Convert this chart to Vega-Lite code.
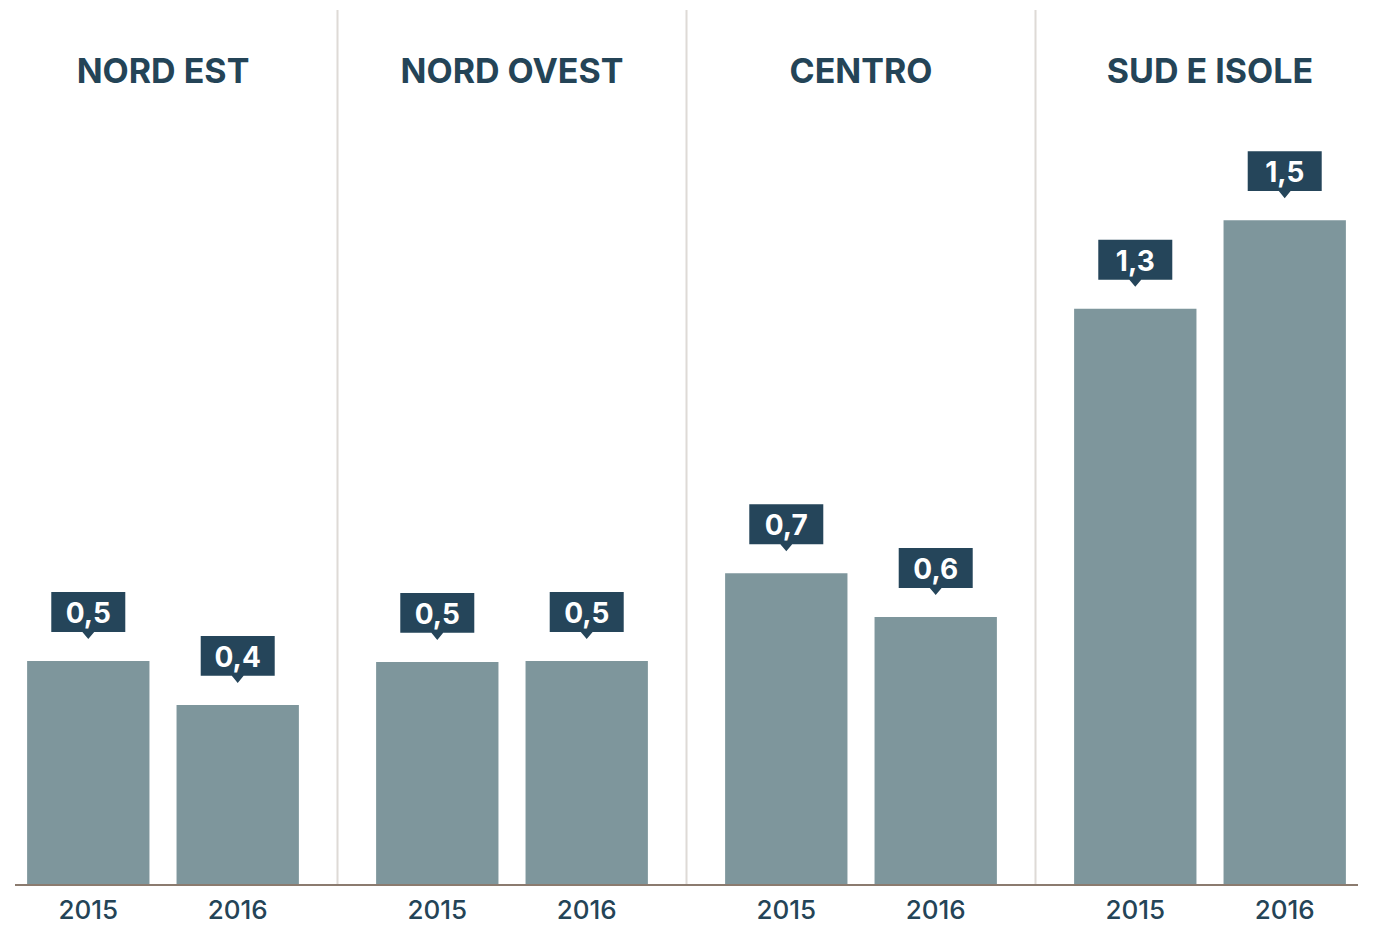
{
  "$schema": "https://vega.github.io/schema/vega-lite/v6.json",
  "autosize": "none",
  "width": 1343,
  "height": 875,
  "padding": {"left": 15, "top": 10, "right": 17, "bottom": 56},
  "background": "white",
  "config": {
    "view": {"stroke": null},
    "font": "Inter",
    "locale": {"number": {"decimal": ",", "thousands": ".", "grouping": [3], "currency": ["€", ""]}}
  },
  "data": {
    "values": [
      {"region": "NORD EST", "year": "2015", "value": 0.5},
      {"region": "NORD EST", "year": "2016", "value": 0.402},
      {"region": "NORD OVEST", "year": "2015", "value": 0.498},
      {"region": "NORD OVEST", "year": "2016", "value": 0.5},
      {"region": "CENTRO", "year": "2015", "value": 0.696},
      {"region": "CENTRO", "year": "2016", "value": 0.598},
      {"region": "SUD E ISOLE", "year": "2015", "value": 1.286},
      {"region": "SUD E ISOLE", "year": "2016", "value": 1.484}
    ]
  },
  "layer": [
    {
      "transform": [{"filter": "datum.region !== 'NORD EST' && datum.year === '2015'"}],
      "mark": {"type": "rule", "color": "#dedad6", "strokeWidth": 2},
      "encoding": {
        "x": {
          "field": "region", "type": "nominal", "bandPosition": 0,
          "sort": ["NORD EST", "NORD OVEST", "CENTRO", "SUD E ISOLE"],
          "scale": {"range": [-26.5, 1369.5], "paddingInner": 0, "paddingOuter": 0}
        }
      }
    },
    {
      "mark": {"type": "bar", "color": "#7e969c"},
      "encoding": {
        "x": {
          "field": "region", "type": "nominal",
          "sort": ["NORD EST", "NORD OVEST", "CENTRO", "SUD E ISOLE"],
          "scale": {"range": [-26.5, 1369.5], "paddingInner": 0, "paddingOuter": 0},
          "axis": {
            "orient": "top", "title": null, "domain": false, "ticks": false, "tickSize": 0,
            "labelPadding": -72, "labelBaseline": "alphabetic", "labelAngle": 0,
            "labelFont": "Inter", "labelFontSize": 34, "labelFontWeight": "bold",
            "labelColor": "#244457", "labelAlign": "center", "labelLimit": 0
          }
        },
        "xOffset": {
          "field": "year", "type": "nominal",
          "scale": {"paddingInner": 0.1812, "paddingOuter": 0.2584}
        },
        "y": {
          "field": "value", "type": "quantitative",
          "scale": {"domain": [0, 1.953], "nice": false, "zero": true},
          "axis": null
        }
      }
    },
    {
      "mark": {"type": "rule", "color": "#8b7b6f", "strokeWidth": 2},
      "encoding": {"y": {"datum": 0, "type": "quantitative"}}
    },
    {
      "mark": {
        "type": "point", "filled": true, "opacity": 1, "color": "#25455a", "strokeWidth": 0,
        "size": 5476, "yOffset": -49,
        "shape": "M-1,-0.54L1,-0.54L1,0.54L0.16,0.54L0,0.73L-0.16,0.54L-1,0.54Z"
      },
      "encoding": {
        "x": {"field": "region", "type": "nominal", "sort": ["NORD EST", "NORD OVEST", "CENTRO", "SUD E ISOLE"]},
        "xOffset": {"field": "year", "type": "nominal"},
        "y": {"field": "value", "type": "quantitative"}
      }
    },
    {
      "mark": {
        "type": "text", "color": "white", "font": "Inter", "fontSize": 28, "fontWeight": "bold",
        "align": "center", "baseline": "middle", "yOffset": -46
      },
      "encoding": {
        "x": {"field": "region", "type": "nominal", "sort": ["NORD EST", "NORD OVEST", "CENTRO", "SUD E ISOLE"]},
        "xOffset": {"field": "year", "type": "nominal"},
        "y": {"field": "value", "type": "quantitative"},
        "text": {"field": "value", "type": "quantitative", "format": ".1f"}
      }
    },
    {
      "mark": {
        "type": "text", "color": "#244457", "font": "Inter", "fontSize": 26, "fontWeight": 500,
        "align": "center", "baseline": "alphabetic", "yOffset": 34
      },
      "encoding": {
        "x": {"field": "region", "type": "nominal", "sort": ["NORD EST", "NORD OVEST", "CENTRO", "SUD E ISOLE"]},
        "xOffset": {"field": "year", "type": "nominal"},
        "y": {"datum": 0, "type": "quantitative"},
        "text": {"field": "year", "type": "nominal"}
      }
    }
  ]
}
